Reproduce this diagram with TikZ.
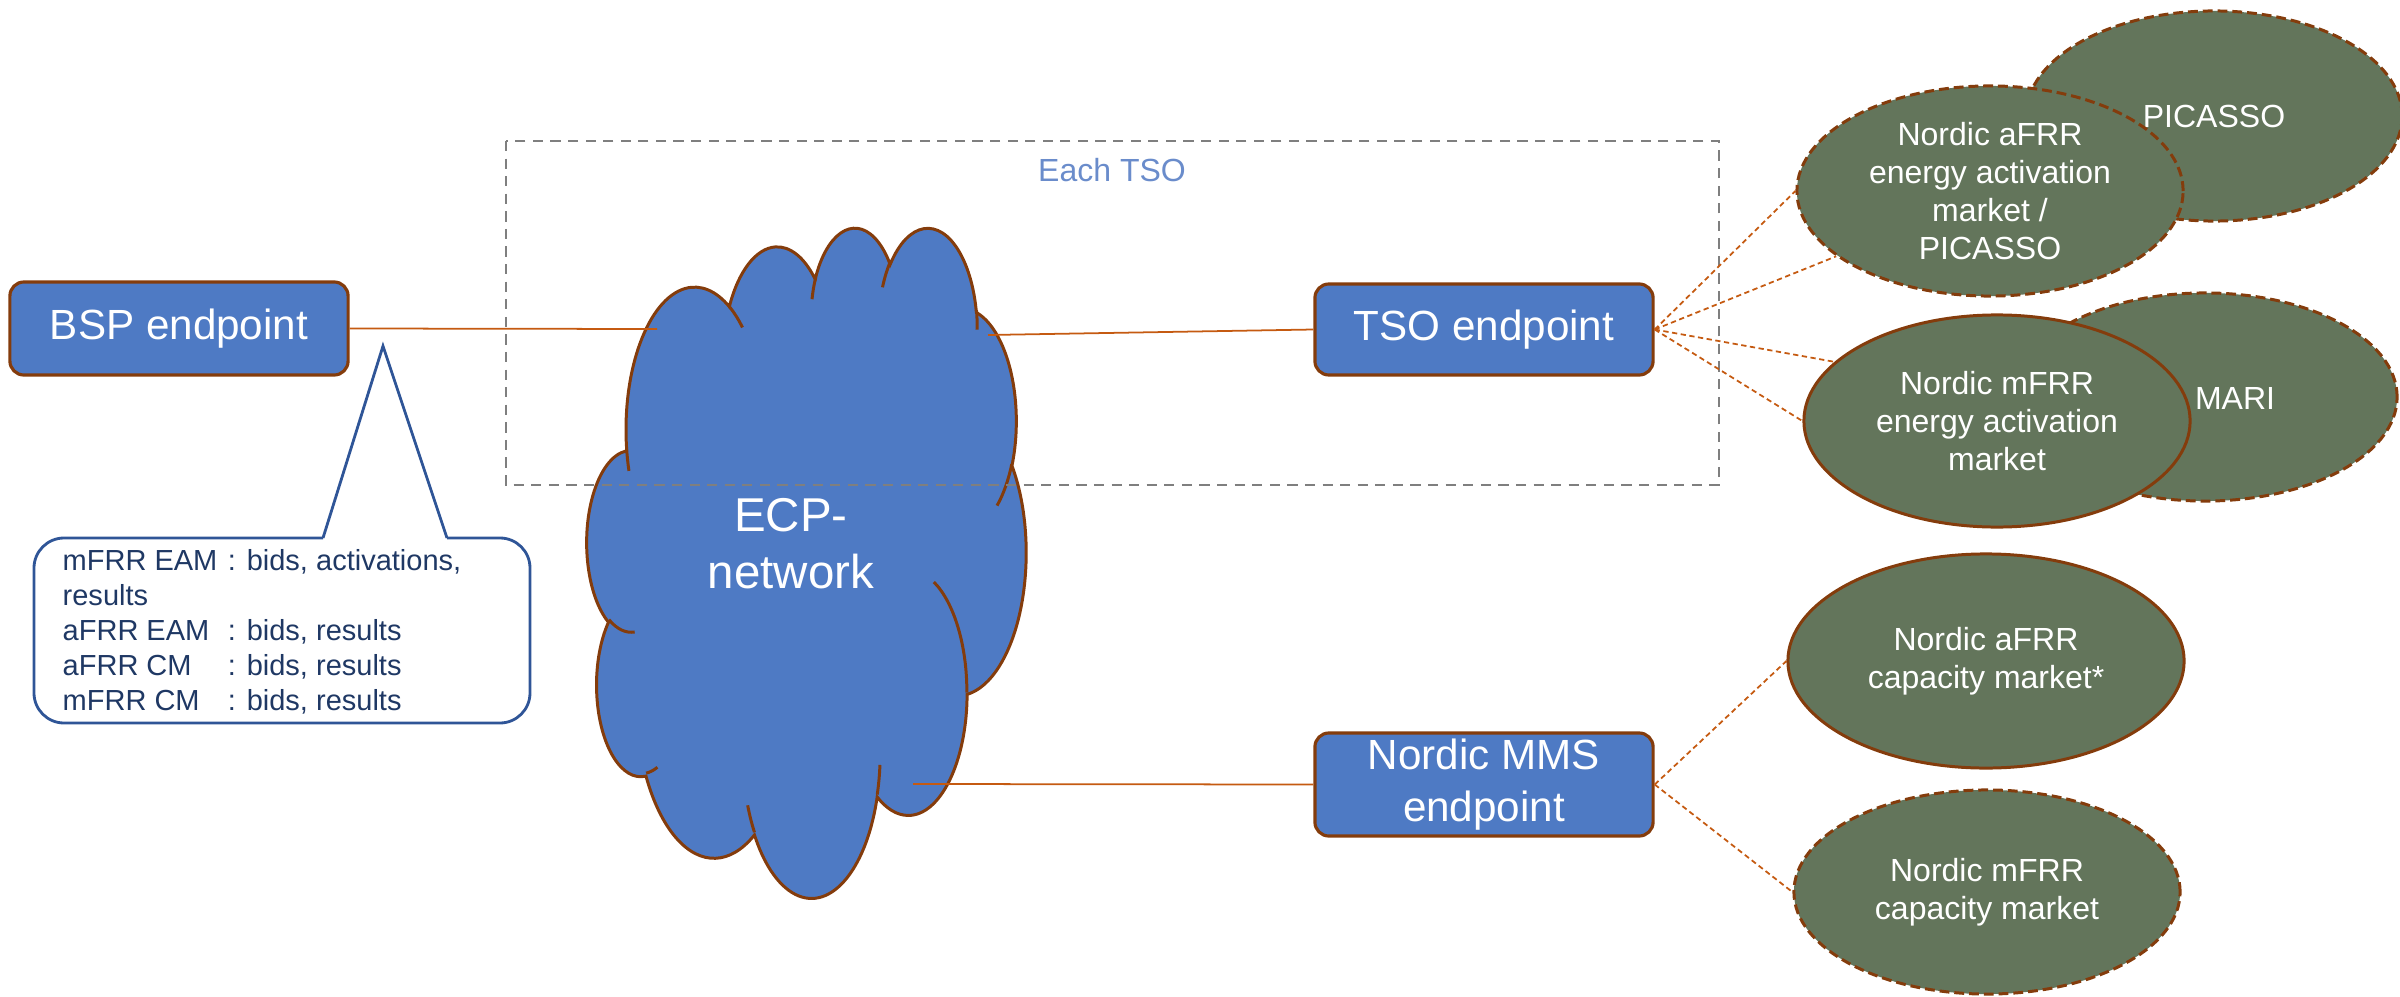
\documentclass[tikz,border=0pt]{standalone}
\usepackage{fontspec}
\setmainfont{Liberation Sans}
\usetikzlibrary{shapes.geometric}

\definecolor{epblue}{HTML}{4E7AC4}
\definecolor{epbrown}{HTML}{843C0C}
\definecolor{wireorange}{HTML}{C55A11}
\definecolor{mktgreen}{HTML}{63755B}
\definecolor{notenavy}{HTML}{1F3864}
\definecolor{noteblue}{HTML}{2F5597}
\definecolor{tsoblue}{HTML}{6A8CCB}
\definecolor{framegray}{HTML}{7F7F7F}

% visual angle -> parametric angle, for the cloud arcs
\pgfmathdeclarefunction{cldpar}{3}{\pgfmathparse{atan2(#1*sin(#3),#2*cos(#3))}}
\pgfmathdeclarefunction{cldswp}{4}{\pgfmathparse{mod(cldpar(#1,#2,#3+#4)-cldpar(#1,#2,#3)+720,360)}}
\newcommand\cldarc[4]{arc[x radius=#1, y radius=#2, start angle={cldpar(#1,#2,#3)}, delta angle={cldswp(#1,#2,#3,#4)}]}
\newcommand\notekey[1]{\makebox[47pt][l]{#1}}

\tikzset{
  endpoint/.style={draw=epbrown, line width=0.9pt, fill=epblue, rounded corners=0.14cm,
    minimum width=3.38cm, inner sep=0pt, align=center, text=white,
    font=\fontsize{12}{14.8}\selectfont},
  market/.style={ellipse, draw=epbrown, line width=0.85pt, fill=mktgreen, inner sep=0pt,
    align=center, text=white, font=\fontsize{9.1}{10.8}\selectfont},
  marketdash/.style={market, dash pattern=on 2.8pt off 1.4pt},
  wire/.style={draw=wireorange, line width=0.5pt},
  wiredash/.style={wire, dash pattern=on 1.5pt off 1pt},
  noteline/.style={draw=noteblue, line width=0.8pt},
}

\begin{document}
\begin{tikzpicture}[x=0.01cm, y=-0.01cm]
  \useasboundingbox (0,0) rectangle (2400,997);

  % endpoints
  \node (bsp) at (179,328.5) [endpoint, minimum height=0.93cm] {BSP endpoint};
  \node (tso) at (1484,329.5) [endpoint, minimum height=0.91cm] {TSO endpoint};
  \node (mms) at (1484,784.5) [endpoint, minimum height=1.03cm] {Nordic MMS\\endpoint};

  % markets
  \node (picasso) at (2214,116) [marketdash, minimum width=3.76cm, minimum height=2.10cm] {PICASSO};
  \node (afrrE) at (1990,191) [marketdash, minimum width=3.86cm, minimum height=2.10cm] {Nordic aFRR\\energy activation\\market /\\PICASSO};
  \node (mari) at (2205,397) [marketdash, minimum width=3.84cm, minimum height=2.08cm] {};
  \node (mariL) at (2235,398) [text=white, font=\fontsize{9.1}{10.8}\selectfont] {MARI};
  \node (mfrrE) at (1997,421) [market, minimum width=3.86cm, minimum height=2.12cm] {Nordic mFRR\\energy activation\\market};
  \node (afrrC) at (1986,661) [market, minimum width=3.96cm, minimum height=2.14cm] {Nordic aFRR\\capacity market*};
  \node (mfrrC) at (1987,892) [marketdash, minimum width=3.86cm, minimum height=2.04cm] {Nordic mFRR\\capacity market};

  % ECP cloud
  \begin{scope}[shift={(587,226)}, xscale=1.0162, yscale=1.5509]
    \filldraw[fill=epblue, draw=epbrown, line width=0.85pt] (39.00,143.70)
      \cldarc{67.53}{91.90}{-190.4875}{123.7805}
      \cldarc{53.33}{72.67}{-144.1024}{89.9452}
      \cldarc{43.65}{59.45}{-145.8079}{99.7230}
      \cldarc{48.57}{65.95}{-130.9861}{117.2417}
      \cldarc{53.33}{72.73}{-78.7089}{109.0269}
      \cldarc{67.75}{92.20}{-46.2673}{130.2690}
      \cldarc{57.85}{78.67}{0.6250}{114.0333}
      \cldarc{67.52}{92.15}{22.4516}{115.1726}
      \cldarc{77.20}{105.43}{66.2426}{75.7110}
      \cldarc{43.60}{59.18}{-274.9421}{146.7356}
      \cldarc{43.45}{59.45}{-246.8285}{152.5189}
      -- cycle;
    \draw[epbrown, line width=0.85pt]
      (46.93,261.77) \cldarc{43.45}{59.45}{86.7420}{26.4295}
      (69.28,348.99) \cldarc{43.60}{59.18}{73.6105}{11.4475}
      (164.78,390.90) \cldarc{67.52}{92.15}{137.6242}{14.0811}
      (288.27,347.51) \cldarc{67.52}{92.15}{6.4533}{15.9984}
      (341.29,229.54) \cldarc{57.85}{78.67}{-70.2924}{70.9174}
      (417.98,153.54) \cldarc{53.33}{72.73}{30.3180}{27.7515}
      (383.24,54.26) \cldarc{48.57}{65.95}{-13.7443}{14.8589}
      (290.78,39.52) \cldarc{48.57}{65.95}{-149.1815}{18.1954}
      (221.41,47.20) \cldarc{43.65}{59.45}{-163.4943}{17.6864}
      (140.00,51.92) \cldarc{67.53}{91.90}{-66.7070}{12.3194}
      (41.27,157.89) \cldarc{67.53}{91.90}{157.6544}{11.8582};
  \end{scope}
  \node (ecp) at (791,544) [text=white, align=center, font=\fontsize{13.5}{16.2}\selectfont] {ECP-\\network};

  % each TSO frame
  \draw[framegray, line width=0.7pt, dash pattern=on 2.9pt off 2.1pt] (506,141) rectangle (1719,485);
  \node (each) at (1112,170) [text=tsoblue, font=\fontsize{9.1}{11}\selectfont] {Each TSO};

  % connections
  \coordinate (ecpW) at (657,329);
  \coordinate (ecpE) at (988,335);
  \coordinate (ecpS) at (913,784);
  \draw[wire] (bsp.east) -- (ecpW);
  \draw[wire] (ecpE) -- (tso.west);
  \draw[wire] (ecpS) -- (mms.west);
  \draw[wiredash] (tso.east) -- (afrrE.west);
  \draw[wiredash] (tso.east) -- (afrrE.203);
  \draw[wiredash] (tso.east) -- (mfrrE.160);
  \draw[wiredash] (tso.east) -- (mfrrE.west);
  \draw[wiredash] (mms.east) -- (afrrC.west);
  \draw[wiredash] (mms.east) -- (mfrrC.west);

  % callout
  \coordinate (tipL) at (323,538);
  \coordinate (tip) at (383,346);
  \coordinate (tipR) at (447,538);
  \draw[noteline, rounded corners=0.3cm] (tipR) -- (530,538) -- (530,723) -- (34,723) -- (34,538) -- (tipL);
  \draw[noteline, line join=miter] (tipL) -- (tip) -- (tipR);
  \node (note) at (62,549) [anchor=north west, inner sep=0pt, align=left, text=notenavy, font=\fontsize{8.25}{9.95}\selectfont] {\notekey{mFRR EAM}: bids, activations,\\results\\\notekey{aFRR EAM}: bids, results\\\notekey{aFRR CM}: bids, results\\\notekey{mFRR CM}: bids, results};
\end{tikzpicture}
\end{document}
